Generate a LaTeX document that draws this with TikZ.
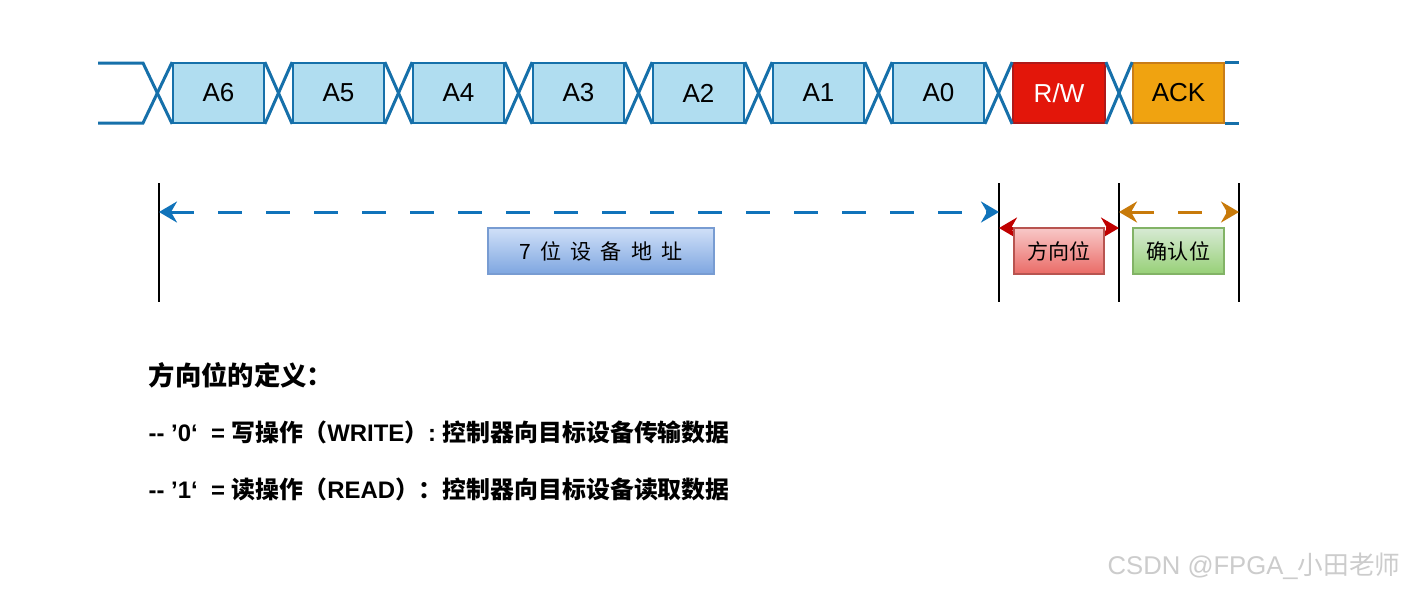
\documentclass[tikz,border=0pt]{standalone}
\usepackage{fontspec}
\setmainfont{Liberation Sans}
\newfontfamily\cjk{Noto Sans CJK SC}
\usetikzlibrary{arrows.meta,positioning,calc}
\definecolor{busblue}{RGB}{22,112,170}
\definecolor{cellblue}{RGB}{176,221,240}
\definecolor{rwred}{RGB}{227,22,10}
\definecolor{rwborder}{RGB}{175,25,25}
\definecolor{ackorange}{RGB}{240,163,16}
\definecolor{ackborder}{RGB}{200,125,25}
\definecolor{arrowblue}{RGB}{16,115,186}
\definecolor{arrowred}{RGB}{192,0,0}
\definecolor{arroworange}{RGB}{200,122,10}
\definecolor{addrtop}{RGB}{208,224,248}
\definecolor{addrbot}{RGB}{126,166,224}
\definecolor{addrline}{RGB}{120,156,210}
\definecolor{dirtop}{RGB}{248,200,200}
\definecolor{dirbot}{RGB}{234,107,102}
\definecolor{dirline}{RGB}{184,84,80}
\definecolor{conftop}{RGB}{215,234,212}
\definecolor{confbot}{RGB}{151,208,119}
\definecolor{confline}{RGB}{130,179,102}
\newcommand{\zh}[1]{{\cjk #1}}
\newcommand{\gapzh}{\hspace{2.6pt}}
\tikzset{
  bus/.style={line width=0.85pt,draw=busblue},
  cell/.style={draw=busblue,fill=cellblue,line width=0.5pt,minimum width=0.91cm,
    minimum height=0.6cm,inner sep=0pt,font=\fontsize{7.4}{8}\selectfont},
  guide/.style={line width=0.45pt,draw=black},
  span/.style={line width=0.85pt,dash pattern=on 2.4mm off 2.4mm,
    {Stealth[length=1.8mm,width=2.1mm,inset=0.6mm]}-{Stealth[length=1.8mm,width=2.1mm,inset=0.6mm]}},
  tag/.style={draw,line width=0.4pt,minimum height=0.46cm,inner sep=0pt,
    font=\cjk\fontsize{6}{7}\selectfont},
  deftext/.style={anchor=west,inner sep=0pt,font=\bfseries\fontsize{6.8}{7.8}\selectfont}
}
\begin{document}
\begin{tikzpicture}
  \fill[white] (0,0) rectangle (14.01,-5.91);
  \useasboundingbox (0,0) rectangle (14.01,-5.91);

  % address cells on the bus
  \foreach \lab [count=\i from 0] in {A6,A5,A4,A3,A2,A1,A0}{
    \node[cell] (\lab) at (2.185+1.2*\i,-0.93) {\lab};
  }
  \node[cell,fill=rwred,draw=rwborder,text=white,minimum width=0.92cm] (rw) at (10.59,-0.93) {R/W};
  \node[cell,fill=ackorange,draw=ackborder] (ack) at (11.785,-0.93) {ACK};

  % leading edge
  \coordinate (leadT) at (0.98,-0.63);
  \coordinate (leadB) at (0.98,-1.23);
  \draw[bus] (leadT) -- ++(0.45,0) -- (A6.south west);
  \draw[bus] (leadB) -- ++(0.45,0) -- (A6.north west);

  % crossings
  \foreach \a/\b in {A6/A5,A5/A4,A4/A3,A3/A2,A2/A1,A1/A0,A0/rw,rw/ack}{
    \draw[bus] (\a.north east) -- (\b.south west);
    \draw[bus] (\a.south east) -- (\b.north west);
  }
  \draw[bus] (ack.north east) -- ++(0.14,0);
  \draw[bus] (ack.south east) -- ++(0.14,0);

  % guides
  \foreach \n/\x in {g1/1.59,g2/9.99,g3/11.19,g4/12.39}{
    \coordinate (\n-t) at (\x,-1.83);
    \coordinate (\n-b) at (\x,-3.02);
    \coordinate (\n-a) at (\x,-2.12);
    \coordinate (\n-r) at (\x,-2.28);
    \draw[guide] (\n-t) -- (\n-b);
  }

  \draw[span,draw=arrowblue] (g1-a) -- (g2-a);
  \draw[span,draw=arrowred] (g2-r) -- (g3-r);
  \draw[span,draw=arroworange] (g3-a) -- (g4-a);

  % field tags
  \node[tag,draw=addrline,top color=addrtop,bottom color=addrbot,minimum width=2.26cm] (addr) at (6.01,-2.51)
    {7\gapzh 位\gapzh 设\gapzh 备\gapzh 地\gapzh 址};
  \node[tag,draw=dirline,top color=dirtop,bottom color=dirbot,minimum width=0.90cm] (dir) at (10.59,-2.51) {方向位};
  \node[tag,draw=confline,top color=conftop,bottom color=confbot,minimum width=0.91cm] (conf) at (11.785,-2.51) {确认位};

  % definition
  \node[deftext,font=\cjk\bfseries\fontsize{7.5}{8.5}\selectfont] (defhead) at (1.48,-3.75) {方向位的定义：};
  \node[deftext] (defw) at (1.48,-4.32)
    {-{}- ’0‘\ \ = \zh{写操作（}WRITE\zh{）}: \zh{控制器向目标设备传输数据}};
  \node[deftext] (defr) at (1.48,-4.89)
    {-{}- ’1‘\ \ = \zh{读操作（}READ\zh{）：控制器向目标设备读取数据}};

  \node[text=gray!40,font=\fontsize{7.3}{9}\selectfont] (mark) at (12.54,-5.66) {CSDN @FPGA\_\zh{小田老师}};
\end{tikzpicture}
\end{document}
